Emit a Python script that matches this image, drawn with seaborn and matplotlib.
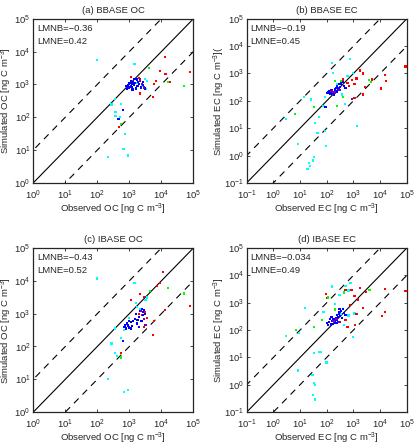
import numpy as np
import pandas as pd
import seaborn as sns
import matplotlib
matplotlib.use('Agg')
import matplotlib.pyplot as plt
from matplotlib.ticker import LogLocator, NullLocator

sns.set_style('ticks')
plt.rcParams['font.family'] = ['Liberation Sans', 'DejaVu Sans']
plt.rcParams['mathtext.fontset'] = 'custom'
plt.rcParams['mathtext.rm'] = 'Liberation Sans'
plt.rcParams['mathtext.it'] = 'Liberation Sans:italic'
plt.rcParams['mathtext.bf'] = 'Liberation Sans:bold'

# ---- data (ng C m-3) ----
# panel (a) BBASE OC
a_cyan_obs = [100, 1450, 3500, 3200, 350, 275, 540, 370, 370, 720, 660, 910, 220, 500, 2500, 1700, 3000]
a_cyan_sim = [5500, 4200, 1300, 740, 350, 245, 255, 145, 110, 30, 11, 6.8, 6.3, 100, 900, 1100, 1500]
a_red_obs = [13000, 9100, 13500, 6900, 6000, 17800, 79000, 2100, 5500, 1150, 480, 2500, 2000]
a_red_sim = [6800, 2600, 2100, 1300, 1050, 1150, 2450, 525, 420, 1700, 49, 1050, 1600]
a_green_obs = [4200, 16000, 52000, 540]
a_green_sim = [3200, 1170, 910, 62]
a_blue_obs = [900, 1000, 950, 1100, 1200, 1050, 1300, 1400, 1150, 850, 1500, 1700, 1800, 2000, 2300,
              2600, 1000, 1250, 1600, 900, 1100, 1350, 1900, 3000, 2700, 800, 1450, 1200, 630, 460]
a_blue_sim = [950, 800, 1100, 900, 1000, 850, 1200, 950, 1300, 750, 1100, 1400, 900, 1000, 800,
              1200, 1000, 700, 750, 800, 1150, 1050, 1200, 750, 950, 900, 1500, 850, 170, 87]
a_mag_obs = [2100, 2500, 2200, 2900]
a_mag_sim = [1500, 1050, 1250, 800]

# panel (b) BBASE EC
b_cyan_obs = [155, 720, 170, 950, 500, 85, 14.5, 26, 2.9, 76, 52, 480, 1380, 36, 45, 87, 91, 8.1,
              34, 30, 22, 19, 23, 380, 250, 600]
b_cyan_sim = [2350, 3300, 1020, 1020, 295, 138, 138, 112, 21, 65, 25, 74, 12, 15, 6.5, 8, 2.3, 2.6,
              0.91, 0.66, 0.54, 0.33, 0.41, 170, 420, 800]
b_red_obs = [1800, 2300, 15500, 16000, 11000, 2300, 89000, 900, 1300, 1100, 400, 700, 1100, 2800, 600, 5000]
b_red_sim = [1290, 1000, 850, 540, 280, 170, 1780, 590, 650, 400, 600, 350, 130, 320, 450, 600]
b_green_obs = [34, 6.5, 250, 91, 3900, 4500, 400, 330, 210]
b_green_sim = [59, 34, 65, 59, 560, 500, 140, 510, 540]
b_blue_obs = [120, 150, 130, 160, 180, 200, 110, 140, 170, 220, 250, 300, 350, 280, 400, 190, 230,
              260, 320, 100, 125, 145, 210, 330, 450, 500, 90]
b_blue_sim = [200, 220, 180, 250, 200, 230, 210, 240, 190, 300, 350, 400, 450, 260, 500, 170, 220,
              280, 330, 190, 230, 175, 260, 400, 350, 300, 60]
b_mag_obs = [150, 200, 300, 170, 900]
b_mag_sim = [230, 200, 250, 210, 120]

# panel (c) IBASE OC
c_cyan_obs = [98, 1450, 3200, 1600, 350, 275, 360, 210, 680, 930, 980, 680, 1700, 3500, 2200, 550, 420]
c_cyan_sim = [11700, 8500, 2600, 2100, 350, 123, 62, 10, 4.1, 4.6, 740, 320, 1600, 3100, 1400, 180, 50]
c_red_obs = [11000, 7100, 9100, 2100, 1150, 2800, 13200, 5500, 3500, 2800, 540, 79000, 6000, 2500, 3000, 2000]
c_red_sim = [19000, 6800, 8500, 3900, 2600, 3300, 1300, 220, 720, 390, 62, 1750, 600, 900, 1100, 1000]
c_green_obs = [16000, 52000, 540, 4500]
c_green_sim = [6000, 4100, 46, 5000]
c_blue_obs = [700, 800, 900, 1000, 850, 950, 1100, 750, 1200, 1300, 1500, 1700, 2000, 2200, 2500,
              2800, 3000, 2600, 2400, 1800, 1000, 1100, 900, 3300, 2000, 1600, 2700, 630]
c_blue_sim = [400, 350, 450, 400, 500, 380, 550, 450, 420, 600, 700, 500, 800, 1200, 1400,
              1300, 1000, 900, 600, 650, 600, 350, 420, 450, 400, 1000, 1100, 150]
c_mag_obs = [2300, 2800, 3200]
c_mag_sim = [1200, 700, 450]

# panel (d) IBASE EC
d_cyan_obs = [155, 780, 500, 15.5, 76, 2.9, 8.9, 34, 52, 60, 98, 8.1, 29, 34, 37, 30, 37, 950, 650,
              300, 350, 650, 1100, 200, 450]
d_cyan_sim = [3900, 5100, 4000, 630, 450, 60, 80, 14, 16, 16, 6.5, 3.3, 2.3, 1.15, 1.0, 0.41, 0.29,
              56, 2800, 1900, 380, 340, 400, 900, 150]
d_red_obs = [91, 100, 500, 850, 1800, 1100, 1500, 15500, 11500, 15500, 89000, 2200, 1170, 500, 600,
             750, 1300, 3000]
d_red_sim = [2050, 1500, 2950, 2900, 3500, 1700, 1300, 3100, 320, 470, 2700, 630, 150, 235, 130,
             800, 380, 2500]
d_green_obs = [6.8, 34, 440, 4000, 115, 200, 65]
d_green_sim = [102, 130, 2350, 2900, 1550, 560, 230]
d_blue_obs = [100, 120, 140, 160, 180, 200, 220, 250, 280, 300, 350, 400, 130, 150, 170, 190, 210,
              240, 260, 320, 380, 450, 110, 230, 270, 500, 300]
d_blue_sim = [180, 200, 160, 220, 250, 190, 280, 350, 400, 450, 500, 600, 250, 300, 170, 210, 240,
              180, 300, 330, 280, 420, 150, 230, 200, 350, 600]
d_mag_obs = [180, 230, 300]
d_mag_sim = [220, 250, 200]

titles = ['(a) BBASE OC', '(b) BBASE EC', '(c) IBASE OC', '(d) IBASE EC']
lmnb = ['LMNB=\u22120.36', 'LMNB=\u22120.19', 'LMNB=\u22120.43', 'LMNB=\u22120.034']
lmne = ['LMNE=0.42', 'LMNE=0.45', 'LMNE=0.52', 'LMNE=0.49']
xlabels = ['Observed OC [ng C m$^{-3}$]', 'Observed EC [ng C m$^{-3}$]',
           'Observed OC [ng C m$^{-3}$]', 'Observed EC [ng C m$^{-3}$]']
ylabels = ['Simulated OC [ng C m$^{-3}$]', 'Simulated EC [ng C m$^{-3}$](',
           'Simulated OC [ng C m$^{-3}$]', 'Simulated EC [ng C m$^{-3}$]']
lows = [0, -1, 0, -1]

colors = {'cyan': '#00ffff', 'red': '#ff0000', 'green': '#00ff00', 'blue': '#0000ff', 'mag': '#7a00b0'}


def make_df(groups):
    rows = []
    for name, obs, sim in groups:
        for o, s in zip(obs, sim):
            rows.append((o, s, name))
    return pd.DataFrame(rows, columns=['obs', 'sim', 'src'])


panels = [
    make_df([('cyan', a_cyan_obs, a_cyan_sim), ('red', a_red_obs, a_red_sim), ('green', a_green_obs, a_green_sim),
             ('blue', a_blue_obs, a_blue_sim), ('mag', a_mag_obs, a_mag_sim)]),
    make_df([('cyan', b_cyan_obs, b_cyan_sim), ('red', b_red_obs, b_red_sim), ('green', b_green_obs, b_green_sim),
             ('blue', b_blue_obs, b_blue_sim), ('mag', b_mag_obs, b_mag_sim)]),
    make_df([('cyan', c_cyan_obs, c_cyan_sim), ('red', c_red_obs, c_red_sim), ('green', c_green_obs, c_green_sim),
             ('blue', c_blue_obs, c_blue_sim), ('mag', c_mag_obs, c_mag_sim)]),
    make_df([('cyan', d_cyan_obs, d_cyan_sim), ('red', d_red_obs, d_red_sim), ('green', d_green_obs, d_green_sim),
             ('blue', d_blue_obs, d_blue_sim), ('mag', d_mag_obs, d_mag_sim)]),
]

fig = plt.figure(figsize=(4.16, 4.46), dpi=100)
pos = [[0.080, 0.590, 0.385, 0.368], [0.593, 0.590, 0.385, 0.368],
       [0.080, 0.076, 0.385, 0.368], [0.593, 0.076, 0.385, 0.368]]
fs = 6.8

for i in range(4):
    ax = fig.add_axes(pos[i])
    lo = 10.0 ** lows[i]
    hi = 1e5
    ref = np.array([lo / 10, hi * 10])
    ax.plot(ref, ref, color='black', lw=0.8)
    ax.plot(ref, ref * 10, color='black', lw=0.8, ls=(0, (6, 5)))
    ax.plot(ref, ref / 10, color='black', lw=0.8, ls=(0, (6, 5)))
    sns.scatterplot(data=panels[i], x='obs', y='sim', hue='src', palette=colors, marker='s',
                    s=2.5, linewidth=0, legend=False, ax=ax, zorder=3)
    ax.set_xscale('log')
    ax.set_yscale('log')
    ax.set_xlim(lo, hi)
    ax.set_ylim(lo, hi)
    ax.xaxis.set_major_locator(LogLocator(base=10, numticks=10))
    ax.yaxis.set_major_locator(LogLocator(base=10, numticks=10))
    ax.xaxis.set_minor_locator(NullLocator())
    ax.yaxis.set_minor_locator(NullLocator())
    ax.tick_params(direction='in', length=2.5, width=0.6, labelsize=fs, top=True, right=True)
    ax.tick_params(axis='x', pad=4)
    ax.tick_params(axis='y', pad=2)
    for sp in ax.spines.values():
        sp.set_linewidth(0.9)
    ax.set_xlabel(xlabels[i], fontsize=fs, labelpad=0)
    ax.set_ylabel(ylabels[i], fontsize=fs)
    ax.yaxis.set_label_coords(-0.12, 0.5)
    ax.set_title(titles[i], fontsize=fs, pad=4)
    ax.text(0.025, 0.94, lmnb[i], transform=ax.transAxes, fontsize=fs, va='center', ha='left')
    ax.text(0.025, 0.86, lmne[i], transform=ax.transAxes, fontsize=fs, va='center', ha='left')

fig.savefig('out.png', dpi=100)
